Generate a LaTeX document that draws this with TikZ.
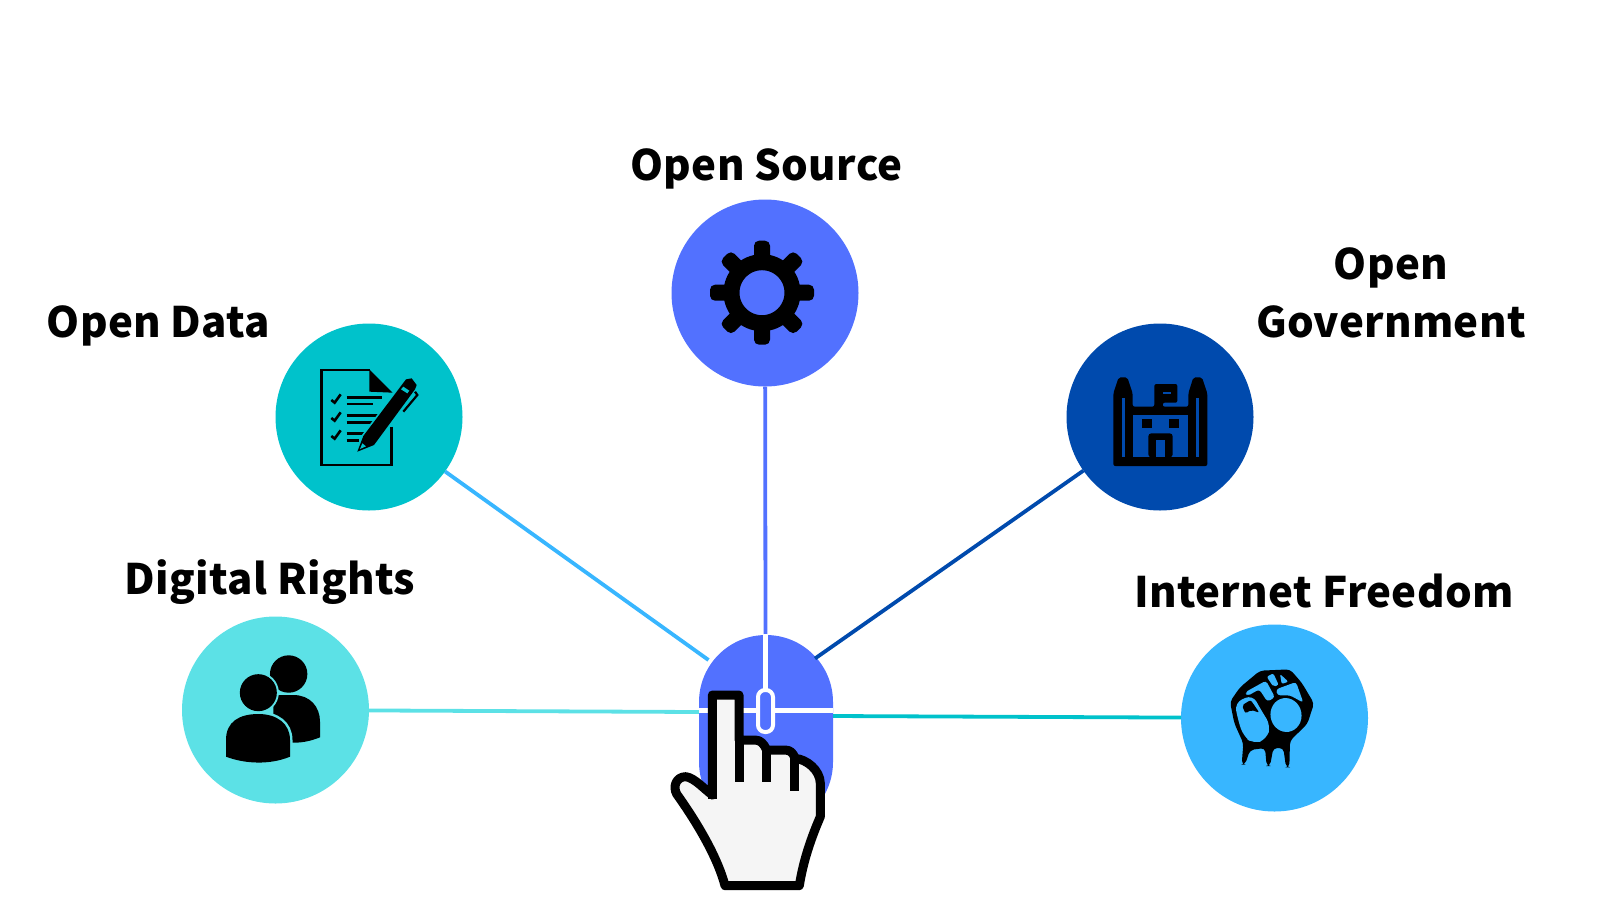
\documentclass[tikz,border=0pt]{standalone}
\usepackage{fontspec}
\newfontfamily\lblfont{Noto Sans CJK JP}[LetterSpace=0.8]
\definecolor{cSource}{HTML}{5271FF}
\definecolor{cData}{HTML}{00C2CB}
\definecolor{cGov}{HTML}{004AAD}
\definecolor{cRights}{HTML}{5CE1E6}
\definecolor{cFree}{HTML}{38B6FF}
\definecolor{cHand}{HTML}{F5F5F5}
\tikzset{
  hub/.style={circle,minimum size=187pt,inner sep=0pt,outer sep=0pt,fill=#1},
  lbl/.style={font=\lblfont\bfseries\fontsize{42}{58}\selectfont,text=black,align=center,inner sep=0pt},
  link/.style={line width=3.8pt,draw=#1},
  zoomed/.style={x=0.33333pt,y=-0.33333pt},
  mouseline/.style={draw=white,line width=4.5pt},
  handline/.style={draw=black,line width=9pt,line cap=butt}
}
\begin{document}
\begin{tikzpicture}[x=1pt,y=-1pt]
\useasboundingbox (0,0) rectangle (1600,900);
% hubs
\node[hub=cSource] (source) at (765,293) {};
\node[hub=cData] (data) at (369,417) {};
\node[hub=cGov] (gov) at (1160,417) {};
\node[hub=cRights] (rights) at (275.5,710) {};
\node[hub=cFree] (free) at (1274.5,718) {};
% mouse
\node[draw=none,fill=cSource,rounded corners=67pt,minimum width=134pt,minimum height=194pt,inner sep=0pt,outer sep=0pt] (mouse) at (766,732) {};
\coordinate (mTop) at (765.5,636);
\coordinate (mNW) at (708.5,660);
\coordinate (mNE) at (815,658.5);
\coordinate (mW) at (699,712);
\coordinate (mE) at (833,716);
% connectors
\draw[link=cSource] (source) -- (mTop);
\draw[link=cFree] (data) -- (mNW);
\draw[link=cGov] (gov) -- (mNE);
\draw[link=cRights] (rights) -- (mW);
\draw[link=cData] (free) -- (mE);
% mouse details
\draw[mouseline] (765.5,634) -- (765.5,690);
\draw[mouseline] (699,710.5) -- (833,710.5);
\node[draw=white,fill=cSource,line width=4pt,rounded corners=7pt,minimum width=15pt,minimum height=42pt,inner sep=0pt] (wheel) at (765.5,711) {};
% hand
\begin{scope}[shift={(640,620)},zoomed]
\draw[black,fill=cHand,line width=9pt,line join=round]
  (217,225) -- (297,225) -- (297,360) -- (345,360)
  .. controls (362,360) and (372,372) .. (380,390)
  -- (435,390) .. controls (452,390) and (460,400) .. (465,415)
  .. controls (500,418) and (540,450) .. (541,490)
  -- (541,590) .. controls (515,650) and (490,720) .. (478,797)
  -- (255,797) .. controls (235,720) and (180,620) .. (110,522)
  .. controls (98,500) and (108,470) .. (138,470)
  .. controls (165,475) and (190,505) .. (217,525) -- cycle;
\draw[handline] (217,225) -- (217,538);
\draw[handline] (297,350) -- (297,485);
\draw[handline] (380,385) -- (380,485);
\draw[handline] (462,405) -- (462,512);
\end{scope}
% gear
\begin{scope}[shift={(762,292.7)}]
\draw[black,line width=16pt] (0,0) circle[radius=30.5pt];
\foreach \a in {0,45,...,315}
  \fill[black,rotate=\a,rounded corners=5pt] (28,-8) rectangle (52,8);
\end{scope}
% document icon
\begin{scope}[shift={(300,350)},zoomed]
\draw[black,line width=2.4pt] (275,230) -- (275,345) -- (65,345) -- (65,60) -- (210,60);
\fill[black] (208,58) -- (278,128) -- (208,125) -- cycle;
\foreach \y/\xe in {143/247,162/218,197/252,218/222,250/195,272/178}
  \draw[black,line width=2.4pt] (140,\y) -- (\xe,\y);
\foreach \y in {150,204,258}
  \draw[black,line width=2.6pt] (94,\y) -- (104,\y+8) -- (122,\y-17);
\draw[cData,line width=3.5pt,line join=round] (172,305) -- (190,258) -- (318,88) -- (352,115) -- (222,285) -- cycle;
\fill[black] (172,305) -- (190,258) -- (318,88) -- (335,85) -- (350,105) -- (345,118) -- (222,285) -- cycle;
\fill[cData] (180,297) -- (187,280) -- (198,289) -- cycle;
\fill[cData] (303,118) -- (310,110) -- (328,122) -- (322,130) -- cycle;
\draw[black,line width=2.2pt] (345,125) -- (352,135) -- (310,185);
\end{scope}
% government icon
\begin{scope}[shift={(1090,360)},zoomed]
\fill[black,rounded corners=2pt] (70,100) -- (86,52) -- (112,52) -- (128,100) -- (128,140) -- (193,140) -- (193,72) -- (262,72) -- (262,128) -- (218,128) -- (218,140) -- (295,140) -- (295,100) -- (310,52) -- (336,52) -- (352,100) -- (352,318) -- (70,318) -- cycle;
\fill[cGov] (128,165) rectangle (295,290);
\fill[cGov] (96,115) rectangle (104,290);
\fill[cGov] (319,115) rectangle (327,290);
\fill[cGov] (220,96) rectangle (242,102);
\fill[black] (155,178) rectangle (185,203);
\fill[black] (238,178) rectangle (268,203);
\fill[black,rounded corners=3pt] (175,292) -- (175,220) -- (248,220) -- (248,292) -- cycle;
\fill[cGov] (198,240) rectangle (224,290);
\end{scope}
% fist icon
\begin{scope}[shift={(1210,660)},zoomed]
\fill[black,rounded corners=4pt] (60,125) -- (90,82) -- (150,32) -- (240,28) -- (275,68) -- (312,130) -- (292,192) -- (240,242) -- (238,322) -- (228,322) -- (220,264) -- (190,264) -- (180,318) -- (170,318) -- (165,264) -- (120,270) -- (105,314) -- (95,314) -- (100,250) -- (73,190) -- cycle;
\fill[cFree,rounded corners=8pt] (74,128) -- (128,104) -- (152,148) -- (182,196) -- (170,238) -- (130,252) -- (100,228) -- (84,180) -- cycle;
\fill[black,rounded corners=2pt] (96,136) -- (122,120) -- (148,158) -- (124,150) -- (106,160) -- cycle;
\fill[cFree,rotate around={10:(228,165)}] (228,165) ellipse[x radius=15.5pt,y radius=17pt];
\fill[cFree,rounded corners=3pt] (105,97) -- (168,62) -- (195,112) -- (172,125) -- (148,88) -- (112,108) -- cycle;
\fill[cFree,rounded corners=2pt] (170,50) -- (190,40) -- (206,75) -- (190,80) -- cycle;
\fill[cFree,rounded corners=2pt] (210,42) -- (235,65) -- (215,72) -- cycle;
\fill[cFree,rounded corners=3pt] (198,88) -- (258,66) -- (280,128) -- (240,106) -- (202,106) -- cycle;
\end{scope}
% people icon
\begin{scope}[shift={(210,640)},zoomed]
\fill[black] (236,102) circle[radius=18.7pt];
\fill[black] (190,165) -- (250,165) .. controls (300,165) and (330,200) .. (330,245) -- (330,292) .. controls (305,302) and (280,308) .. (252,308) -- (190,308) -- cycle;
\draw[cRights,line width=5pt] (48,350) -- (48,300) .. controls (48,245) and (88,222) .. (145,222) .. controls (200,222) and (240,250) .. (240,300) -- (240,350) -- cycle;
\fill[black] (48,350) -- (48,300) .. controls (48,245) and (88,222) .. (145,222) .. controls (200,222) and (240,250) .. (240,300) -- (240,350) .. controls (180,375) and (105,372) .. (48,350) -- cycle;
\fill[cRights] (145,158) circle[radius=20.5pt];
\fill[black] (145,158) circle[radius=18.5pt];
\end{scope}
% labels
\node[lbl] (tSource) at (766.5,169) {Open Source};
\node[lbl] (tData) at (158.5,326) {Open Data};
\node[lbl] (tGov) at (1391,292.5) {Open\\Government};
\node[lbl] (tRights) at (270,582) {Digital Rights};
\node[lbl] (tFree) at (1324,591.5) {Internet Freedom};
\end{tikzpicture}
\end{document}
